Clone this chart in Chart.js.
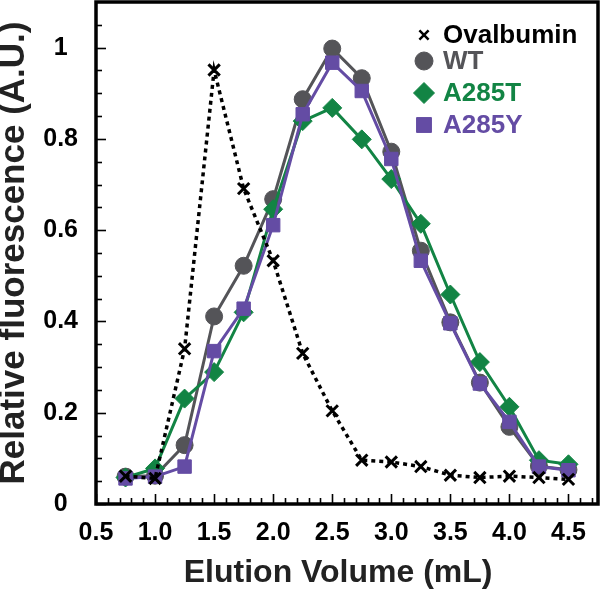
<!DOCTYPE html>
<html>
<head>
<meta charset="utf-8">
<script src="https://cdn.jsdelivr.net/npm/chart.js@4.4.1/dist/chart.umd.min.js"></script>
<style>
  body { margin: 0; background: #fff; }
  #wrap { width: 600px; height: 589px; }
</style>
</head>
<body>
<div id="wrap"><canvas id="elutionChart" width="600" height="589"></canvas></div>
<script>
volumes = [0.75, 1.0, 1.25, 1.5, 1.75, 2.0, 2.25, 2.5, 2.75, 3.0, 3.25, 3.5, 3.75, 4.0, 4.25, 4.5];

ovalbumin = [0.061, 0.056, 0.34, 0.951, 0.691, 0.533, 0.33, 0.204, 0.096, 0.092, 0.082, 0.063, 0.058, 0.061, 0.058, 0.054];
wt = [0.06, 0.062, 0.129, 0.411, 0.522, 0.668, 0.887, 0.998, 0.933, 0.772, 0.555, 0.398, 0.266, 0.169, 0.083, 0.075];
a285t = [0.058, 0.078, 0.231, 0.289, 0.42, 0.646, 0.839, 0.868, 0.799, 0.712, 0.614, 0.459, 0.311, 0.213, 0.096, 0.087];
a285y = [0.056, 0.06, 0.082, 0.335, 0.428, 0.611, 0.854, 0.967, 0.905, 0.756, 0.533, 0.396, 0.264, 0.18, 0.082, 0.074];

xTickValues = [0.5, 1.0, 1.5, 2.0, 2.5, 3.0, 3.5, 4.0, 4.5];
yTickValues = [0, 0.2, 0.4, 0.6, 0.8, 1];

seriesNames = ["Ovalbumin", "WT", "A285T", "A285Y"];
colors = ["rgb(0, 0, 0)", "rgb(84, 84, 88)", "rgb(18, 132, 68)", "rgb(100, 76, 164)"];
pointStyles = ["crossRot", "circle", "rectRot", "rect"];
pointSizes = [8, 8.5, 9.5, 9.5];

fontFamily = "'Liberation Sans', Arial, sans-serif";

function toPoints(values) {
  var points = [];
  for (var i = 0; i < volumes.length; i++) {
    points.push({ x: volumes[i], y: values[i] });
  }
  return points;
}

function makeDataset(index, values, drawOrder) {
  return {
    label: seriesNames[index],
    data: toPoints(values),
    borderColor: colors[index],
    backgroundColor: colors[index],
    borderWidth: 3,
    pointStyle: pointStyles[index],
    pointRadius: pointSizes[index],
    pointBorderWidth: 1,
    pointBackgroundColor: colors[index],
    pointBorderColor: colors[index],
    tension: 0,
    clip: false,
    order: drawOrder,
  };
}

// the axes should not reserve room for their end labels
function noScalePadding(scale) {
  scale.paddingTop = 0;
  scale.paddingBottom = 0;
  scale.paddingLeft = 0;
  scale.paddingRight = 0;
}

// frame round the plot area with inward ticks, like the original
frameTicks = {
  id: "frameTicks",
  afterDatasetsDraw(chart) {
    const ctx = chart.ctx;
    const area = chart.chartArea;
    const xScale = chart.scales.x;
    const yScale = chart.scales.y;

    ctx.save();
    ctx.strokeStyle = "#000";
    ctx.lineWidth = 1.6;

    for (var i = 0; i <= 42; i++) {
      var xv = 0.5 + i * 0.1;
      var px = Math.round(xScale.getPixelForValue(xv)) + 0.5;
      var len = (i % 5 === 0) ? 10 : 6;
      ctx.beginPath();
      ctx.moveTo(px, area.bottom);
      ctx.lineTo(px, area.bottom - len);
      ctx.stroke();
    }

    for (var j = 0; j <= 21; j++) {
      var yv = j * 0.05;
      var py = Math.round(yScale.getPixelForValue(yv)) + 0.5;
      var ylen = (j % 4 === 0) ? 10 : 6;
      ctx.beginPath();
      ctx.moveTo(area.left, py);
      ctx.lineTo(area.left + ylen, py);
      ctx.stroke();
    }

    ctx.lineWidth = 3.5;
    ctx.strokeRect(area.left, area.top, area.right - area.left, area.bottom - area.top);
    ctx.restore();
  },
};

// legend drawn inside the top right corner of the plot
insideLegend = {
  id: "insideLegend",
  afterDraw(chart) {
    const ctx = chart.ctx;
    const rowY = [35, 61, 93, 125];
    const markerSizes = [6.5, 9, 10.5, 10.5];
    const markerX = 424;
    const textX = 443;

    ctx.save();
    for (var i = 0; i < seriesNames.length; i++) {
      ctx.fillStyle = colors[i];
      ctx.strokeStyle = colors[i];
      ctx.lineWidth = i === 0 ? 2.5 : 1;
      Chart.helpers.drawPoint(ctx, {
        pointStyle: pointStyles[i],
        radius: markerSizes[i],
        borderWidth: i === 0 ? 2.5 : 1,
        rotation: 0,
      }, markerX, rowY[i]);

      ctx.font = "bold 26px " + fontFamily;
      ctx.textAlign = "left";
      ctx.textBaseline = "middle";
      ctx.fillText(seriesNames[i], textX, rowY[i] + 1);
    }
    ctx.restore();
  },
};

ovalbumin_set = makeDataset(0, ovalbumin, 0);
ovalbumin_set.borderDash = [4, 4];
ovalbumin_set.borderWidth = 3.5;
ovalbumin_set.pointBorderWidth = 3;

config = {
  type: "line",
  data: {
    datasets: [
      ovalbumin_set,
      makeDataset(1, wt, 3),
      makeDataset(2, a285t, 2),
      makeDataset(3, a285y, 1),
    ],
  },
  options: {
    responsive: false,
    animation: false,
    layout: {
      autoPadding: false,
      padding: { top: 2, right: 2, left: 0, bottom: 0 },
    },
    plugins: {
      legend: { display: false },
      tooltip: { enabled: false },
    },
    scales: {
      x: {
        type: "linear",
        min: 0.5,
        max: 4.75,
        afterBuildTicks: (scale) => {
          scale.ticks = xTickValues.map((v) => ({ value: v }));
        },
        afterFit: (scale) => {
          scale.height = 85;
          noScalePadding(scale);
        },
        grid: { display: false },
        border: { display: false },
        ticks: {
          color: "#000",
          padding: 6,
          maxRotation: 0,
          autoSkip: false,
          font: { family: fontFamily, size: 25, weight: "bold" },
          callback: (value) => value.toFixed(1),
        },
        title: {
          display: true,
          text: "Elution Volume (mL)\u00a0\u00a0",
          color: "#222",
          padding: 0,
          font: { family: fontFamily, size: 32, weight: "bold", lineHeight: 1 },
        },
      },
      y: {
        min: 0,
        max: 1.1,
        afterBuildTicks: (scale) => {
          scale.ticks = yTickValues.map((v) => ({ value: v }));
        },
        afterFit: (scale) => {
          scale.width = 96;
          noScalePadding(scale);
        },
        grid: { display: false },
        border: { display: false },
        ticks: {
          color: "#000",
          padding: 10,
          crossAlign: "center",
          autoSkip: false,
          font: { family: fontFamily, size: 25, weight: "bold" },
          callback: (value) => {
            if (value === 0) return "0";
            if (value === 1) return "1";
            return value.toFixed(1);
          },
        },
        title: {
          display: true,
          text: "Relative fluorescence (A.U.)",
          color: "#222",
          padding: 0,
          font: { family: fontFamily, size: 35, weight: "bold", lineHeight: 0.8 },
        },
      },
    },
  },
  plugins: [frameTicks, insideLegend],
};

elutionChart = new Chart(document.getElementById("elutionChart"), config);
</script>
</body>
</html>
